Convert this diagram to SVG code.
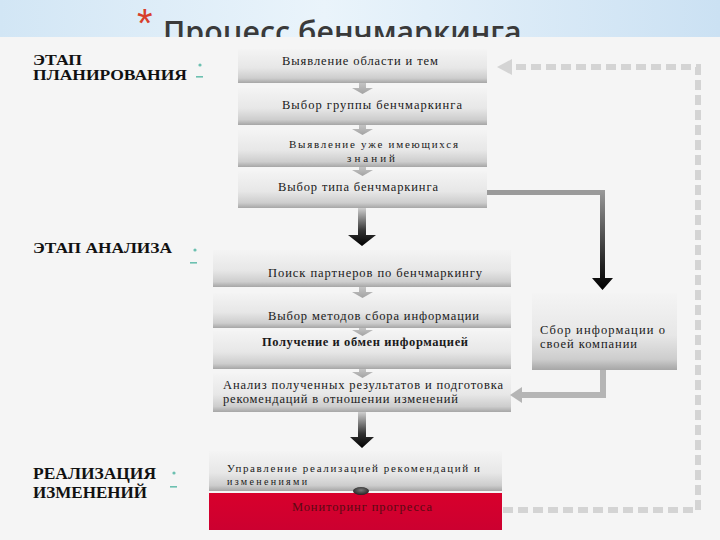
<svg xmlns="http://www.w3.org/2000/svg" width="720" height="540" viewBox="0 0 720 540">
<defs>
 <linearGradient id="band" x1="0" y1="0" x2="1" y2="0">
  <stop offset="0" stop-color="#d2e6f5"/>
  <stop offset="0.45" stop-color="#eaf4fb"/>
  <stop offset="1" stop-color="#cbe1f3"/>
 </linearGradient>
 <linearGradient id="box" x1="0" y1="0" x2="0" y2="1">
  <stop offset="0" stop-color="#f4f4f4"/>
  <stop offset="0.55" stop-color="#e7e7e7"/>
  <stop offset="0.86" stop-color="#cdcdcd"/>
  <stop offset="1" stop-color="#a6a6a6"/>
 </linearGradient>
 <linearGradient id="red" x1="0" y1="0" x2="0" y2="1">
  <stop offset="0" stop-color="#d8002c"/>
  <stop offset="1" stop-color="#cc0030"/>
 </linearGradient>
 <linearGradient id="blk" x1="0" y1="0" x2="0" y2="1">
  <stop offset="0" stop-color="#cfcfcf"/>
  <stop offset="0.6" stop-color="#333"/>
  <stop offset="1" stop-color="#000"/>
 </linearGradient>
 <linearGradient id="blk2" x1="0" y1="0" x2="0" y2="1">
  <stop offset="0" stop-color="#9a9a9a"/>
  <stop offset="0.75" stop-color="#222"/>
  <stop offset="1" stop-color="#000"/>
 </linearGradient>
 <linearGradient id="gry" x1="0" y1="0" x2="0" y2="1">
  <stop offset="0" stop-color="#c4c4c4"/>
  <stop offset="1" stop-color="#a2a2a2"/>
 </linearGradient>
 <radialGradient id="dot" cx="0.5" cy="0.4" r="0.6">
  <stop offset="0" stop-color="#777"/>
  <stop offset="1" stop-color="#222"/>
 </radialGradient>
</defs>
<style>
 .lbl{font-family:"Liberation Serif","Times New Roman",serif;font-weight:bold;fill:#111}
 .t{font-family:"Liberation Serif","Times New Roman",serif;font-size:12.5px;fill:#1a1a1a}
 .s{font-size:11px}
 .bx{fill:url(#box)}
 .mk{fill:#6cc0b0}
 .ga{fill:url(#gry)}
</style>

<rect x="0" y="0" width="720" height="40" fill="url(#band)"/>
<g id="title">
 <text x="137" y="37" font-family="Liberation Sans, Arial, sans-serif" font-size="40" fill="#d8402a">*</text>
 <text x="163" y="43" font-family="Open Sans, Noto Sans, sans-serif" font-weight="600" font-size="31" fill="#3a3a3a" textLength="367" lengthAdjust="spacingAndGlyphs">Процесс бенчмаркинга.</text>
</g>
<rect x="0" y="37" width="720" height="503" fill="#f5f5f5"/>

<g id="labels">
 <text class="lbl" x="33" y="65" font-size="15" textLength="49" lengthAdjust="spacingAndGlyphs">ЭТАП</text>
 <text class="lbl" x="33" y="80" font-size="15" textLength="154" lengthAdjust="spacingAndGlyphs">ПЛАНИРОВАНИЯ</text>
 <text class="lbl" x="33" y="253" font-size="15" textLength="139" lengthAdjust="spacingAndGlyphs">ЭТАП АНАЛИЗА</text>
 <text class="lbl" x="33" y="479" font-size="17" textLength="123" lengthAdjust="spacingAndGlyphs">РЕАЛИЗАЦИЯ</text>
 <text class="lbl" x="33" y="498" font-size="17" textLength="114" lengthAdjust="spacingAndGlyphs">ИЗМЕНЕНИЙ</text>
 <circle class="mk" cx="200" cy="65" r="1.6"/>
 <rect class="mk" x="196" y="76" width="7" height="1.6"/>
 <circle class="mk" cx="195" cy="250" r="1.6"/>
 <rect class="mk" x="190" y="262" width="7" height="1.6"/>
 <circle class="mk" cx="174" cy="473" r="1.6"/>
 <rect class="mk" x="170" y="486" width="7" height="1.6"/>
</g>

<g id="plan1"><rect class="bx" x="238" y="49" width="249" height="34"/><text class="t" x="282" y="65" textLength="156" lengthAdjust="spacing">Выявление области и тем</text></g>
<g id="plan2"><rect class="bx" x="238" y="88" width="249" height="37"/><text class="t" x="282" y="109" textLength="180" lengthAdjust="spacing">Выбор группы бенчмаркинга</text></g>
<g id="plan3"><rect class="bx" x="238" y="130" width="249" height="37"/><text class="t s" x="289" y="148" textLength="169" lengthAdjust="spacing">Выявление уже имеющихся</text><text class="t s" x="347" y="162" textLength="48" lengthAdjust="spacing">знаний</text></g>
<g id="plan4"><rect class="bx" x="238" y="171" width="249" height="37"/><text class="t" x="278" y="191" textLength="160" lengthAdjust="spacing">Выбор типа бенчмаркинга</text></g>

<g id="an1"><rect class="bx" x="213" y="250" width="298" height="37"/><text class="t" x="268" y="277" textLength="214" lengthAdjust="spacing">Поиск партнеров по бенчмаркингу</text></g>
<g id="an2"><rect class="bx" x="213" y="293" width="298" height="35"/><text class="t" x="268" y="320" textLength="211" lengthAdjust="spacing">Выбор методов сбора информации</text></g>
<g id="an3"><rect class="bx" x="213" y="331" width="298" height="38"/><text class="t" x="262" y="346" font-weight="bold" textLength="206" lengthAdjust="spacing">Получение и обмен информацией</text></g>
<g id="an4"><rect class="bx" x="213" y="373" width="298" height="39"/><text class="t" x="223" y="389" textLength="280" lengthAdjust="spacing">Анализ полученных результатов и подготовка</text><text class="t" x="223" y="403" textLength="235" lengthAdjust="spacing">рекомендаций в отношении изменений</text></g>

<g id="own"><rect class="bx" x="532" y="293" width="145" height="77"/><text class="t" x="540" y="334" textLength="125" lengthAdjust="spacing">Сбор информации о</text><text class="t" x="540" y="348" textLength="97" lengthAdjust="spacing">своей компании</text></g>

<g id="impl1"><rect class="bx" x="209" y="451" width="293" height="40"/><text class="t s" x="227" y="472" textLength="253" lengthAdjust="spacing">Управление реализацией рекомендаций и</text><text class="t" x="227" y="485" font-size="10" style="font-size:10px" textLength="80" lengthAdjust="spacing">изменениями</text></g>
<g id="impl2"><rect x="209" y="493" width="293" height="37" fill="url(#red)"/><text class="t" x="292" y="511" style="fill:#5a0a12" textLength="140" lengthAdjust="spacing">Мониторинг прогресса</text></g>

<g id="connectors">
 <path class="ga" d="M359 83H366V88H373L362.5 94L352 88H359Z"/>
 <path class="ga" d="M359 125H366V129H373L362.5 135L352 129H359Z"/>
 <path class="ga" d="M359 167H366V170H373L362.5 176L352 170H359Z"/>
 <path class="ga" d="M359 287H366V292H373L362.5 298L352 292H359Z"/>
 <path class="ga" d="M359 328H366V330H373L362.5 336L352 330H359Z"/>
 <path class="ga" d="M359 369H366V372H373L362.5 378L352 372H359Z"/>
 <path d="M358 208H366V235H376L362 246L348 235H358Z" fill="url(#blk)"/>
 <path d="M358 412H366V437H374L362 448L350 437H358Z" fill="url(#blk)"/>
 <rect x="487" y="190" width="118" height="5" fill="#9a9a9a"/>
 <path d="M600 190H605V278H613L602.5 290L592 278H600Z" fill="url(#blk2)"/>
 <path d="M603 370V395H521" fill="none" stroke="#b5b5b5" stroke-width="6"/>
 <path d="M522 387V403L510 395Z" fill="#b5b5b5"/>
 <ellipse cx="361" cy="491" rx="8" ry="4" fill="url(#dot)"/>
 <path d="M503 510H698V67H513" fill="none" stroke="#d4d4d4" stroke-width="6" stroke-dasharray="10 5"/>
 <path d="M512 59V75L497 67Z" fill="#d4d4d4"/>
</g>
</svg>
